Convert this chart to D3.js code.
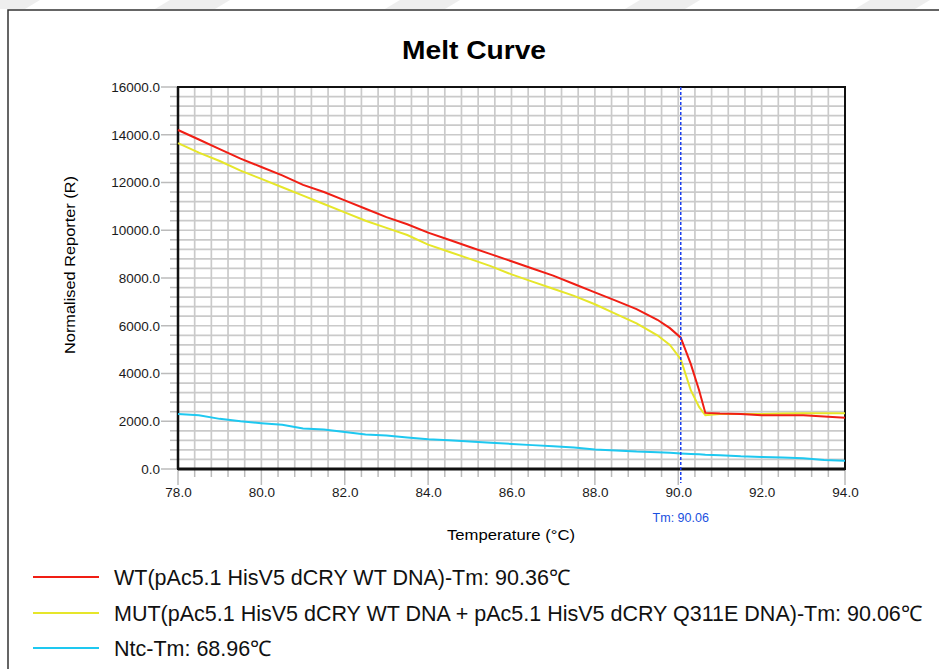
<!DOCTYPE html>
<html>
<head>
<meta charset="utf-8">
<script src="https://cdn.jsdelivr.net/npm/d3@7"></script>
<style>
  body { margin: 0; background: #fff; }
  svg { display: block; }
</style>
</head>
<body>
<div id="chartArea"></div>
<script>
// temperatures (°C) shared by all three curves
const temps = [78, 78.5, 79, 79.5, 80, 80.5, 81, 81.5, 82, 82.5, 83, 83.5, 84, 84.5, 85, 85.5, 86, 86.5, 87, 87.5,
               88, 88.5, 89, 89.5, 89.8, 90.06, 90.3, 90.5, 90.65, 91, 91.5, 92, 92.5, 93, 93.5, 94];
const wtValues = [14200, 13800, 13400, 13000, 12650, 12300, 11900, 11600, 11250, 10900, 10550, 10250, 9900, 9600, 9300, 9000,
                  8700, 8400, 8100, 7750, 7400, 7050, 6700, 6250, 5900, 5500, 4400, 3300, 2350, 2320, 2300, 2250, 2250, 2250, 2200, 2150];
const mutValues = [13650, 13250, 12900, 12500, 12150, 11800, 11450, 11100, 10750, 10400, 10100, 9800, 9400, 9100, 8800, 8500,
                   8150, 7850, 7550, 7250, 6900, 6500, 6100, 5600, 5200, 4600, 3300, 2600, 2250, 2300, 2300, 2300, 2320, 2330, 2330, 2330];
const ntcValues = [2300, 2250, 2100, 2000, 1920, 1850, 1700, 1650, 1550, 1450, 1400, 1320, 1250, 1200, 1150, 1100,
                   1050, 1000, 950, 900, 820, 780, 730, 700, 680, 650, 630, 620, 600, 580, 530, 500, 480, 450, 380, 350];
const seriesNames = ["WT(pAc5.1 HisV5 dCRY WT DNA)-Tm: 90.36\u2103",
                     "MUT(pAc5.1 HisV5 dCRY WT DNA + pAc5.1 HisV5 dCRY Q311E DNA)-Tm: 90.06\u2103",
                     "Ntc-Tm: 68.96\u2103"];
const seriesColors = ["#f01e14", "#e6e62a", "#1ec8f0"];
const xTicks = [78, 80, 82, 84, 86, 88, 90, 92, 94];
const yTicks = [0, 2000, 4000, 6000, 8000, 10000, 12000, 14000, 16000];
const tmValue = 90.06;

const W = 939, H = 669;
const plot = {left: 178, right: 845, top: 87, bottom: 469};
const font = "Liberation Sans, Arial, sans-serif";

const svg = d3.select("#chartArea").append("svg")
    .attr("width", W).attr("height", H);

// faint decoration strip at top + outer frame
const deco = svg.append("g").attr("fill", "#eeeeee");
[[-20, 0], [170, 0], [400, 0], [640, 0], [870, 0]].forEach(function(p) {
  deco.append("path").attr("d", `M${p[0]},0 L${p[0] + 60},0 L${p[0] + 45},9 L${p[0] - 15},9 Z`);
});
svg.append("path")
    .attr("d", `M8,${H} L8,10 L${W},10`)
    .attr("fill", "none").attr("stroke", "#333").attr("stroke-width", 1.5);

const x = d3.scaleLinear().domain([78, 94]).range([plot.left, plot.right]);
const y = d3.scaleLinear().domain([0, 16000]).range([plot.bottom, plot.top]);

// grid every 0.4 °C and 400 units
const xGrid = d3.range(0, 41).map(i => 78 + i * 0.4);
const yGrid = d3.range(0, 41).map(i => i * 400);
const grid = svg.append("g").attr("stroke", "#cacaca").attr("stroke-width", 1.7);
grid.selectAll("line.v").data(xGrid).enter().append("line")
    .attr("x1", d => x(d)).attr("x2", d => x(d))
    .attr("y1", plot.top).attr("y2", plot.bottom);
grid.selectAll("line.h").data(yGrid).enter().append("line")
    .attr("x1", plot.left).attr("x2", plot.right)
    .attr("y1", d => y(d)).attr("y2", d => y(d));

// minor tick marks outside the axes
const ticks = svg.append("g").attr("stroke", "#bbbbbb").attr("stroke-width", 1.5);
ticks.selectAll("line.ym").data(yGrid).enter().append("line")
    .attr("x1", d => yTicks.includes(d) ? plot.left - 17 : plot.left - 8).attr("x2", plot.left)
    .attr("y1", d => y(d)).attr("y2", d => y(d));
ticks.selectAll("line.xm").data(xGrid).enter().append("line")
    .attr("y1", plot.bottom).attr("y2", d => xTicks.some(t => Math.abs(t - d) < 1e-6) ? plot.bottom + 16 : plot.bottom + 8)
    .attr("x1", d => x(d)).attr("x2", d => x(d));

// axis labels via d3 axes, lines hidden
const yAxis = svg.append("g")
    .attr("transform", `translate(${plot.left - 17},0)`)
    .call(d3.axisLeft(y).tickValues(yTicks).tickSize(0).tickPadding(1).tickFormat(d3.format(".1f")));
const xAxis = svg.append("g")
    .attr("transform", `translate(0,${plot.bottom + 17})`)
    .call(d3.axisBottom(x).tickValues(xTicks).tickSize(0).tickPadding(1).tickFormat(d3.format(".1f")));
[yAxis, xAxis].forEach(function(a) {
  a.select(".domain").remove();
  a.selectAll("text").attr("font-family", font)
      .attr("font-size", 13.5).attr("fill", "#1a1a1a");
});

// plot frame
svg.append("rect")
    .attr("x", plot.left).attr("y", plot.top)
    .attr("width", plot.right - plot.left).attr("height", plot.bottom - plot.top)
    .attr("fill", "none").attr("stroke", "#111").attr("stroke-width", 2);
svg.append("line")
    .attr("x1", plot.left).attr("x2", plot.right)
    .attr("y1", plot.bottom).attr("y2", plot.bottom)
    .attr("stroke", "#111").attr("stroke-width", 3);
svg.append("line")
    .attr("x1", plot.left).attr("x2", plot.left)
    .attr("y1", plot.top).attr("y2", plot.bottom)
    .attr("stroke", "#111").attr("stroke-width", 2.5);

// curves
const line = d3.line().x(d => x(d[0])).y(d => y(d[1]));
[ntcValues, mutValues, wtValues].forEach(function(vals, i) {
  const ci = 2 - i;
  svg.append("path")
      .datum(temps.map((t, j) => [t, vals[j]]))
      .attr("d", line)
      .attr("fill", "none")
      .attr("stroke", seriesColors[ci])
      .attr("stroke-width", 2);
});

// Tm marker
svg.append("line")
    .attr("x1", x(tmValue)).attr("x2", x(tmValue))
    .attr("y1", plot.top).attr("y2", plot.bottom + 14)
    .attr("stroke", "#1a3ef0").attr("stroke-width", 1.5)
    .attr("stroke-dasharray", "3,2");
svg.append("text")
    .attr("x", x(tmValue)).attr("y", 522)
    .attr("text-anchor", "middle")
    .attr("font-family", font)
    .attr("font-size", 12.5).attr("fill", "#1a50e0")
    .text("Tm: " + tmValue.toFixed(2));

// titles
svg.append("text")
    .attr("x", 474).attr("y", 59)
    .attr("text-anchor", "middle")
    .attr("font-family", font)
    .attr("font-weight", "bold").attr("font-size", 26)
    .attr("textLength", 144).attr("lengthAdjust", "spacingAndGlyphs")
    .text("Melt Curve");
svg.append("text")
    .attr("x", 511).attr("y", 540)
    .attr("text-anchor", "middle")
    .attr("font-family", font)
    .attr("font-size", 14.5)
    .attr("textLength", 128).attr("lengthAdjust", "spacingAndGlyphs")
    .text("Temperature (\u00b0C)");
svg.append("text")
    .attr("transform", "translate(75,265) rotate(-90)")
    .attr("text-anchor", "middle")
    .attr("font-family", font)
    .attr("font-size", 14.5)
    .attr("textLength", 178).attr("lengthAdjust", "spacingAndGlyphs")
    .text("Normalised Reporter (R)");

// legend
const legendY = [577, 613, 648];
const legend = svg.append("g");
seriesNames.forEach(function(name, i) {
  const ly = legendY[i];
  legend.append("line")
      .attr("x1", 33).attr("x2", 99).attr("y1", ly).attr("y2", ly)
      .attr("stroke", seriesColors[i]).attr("stroke-width", 2);
  legend.append("text")
      .attr("x", 114).attr("y", ly + 8)
      .attr("font-family", font)
      .attr("font-size", 21.5).attr("fill", "#111")
      .text(name);
});
</script>
</body>
</html>
